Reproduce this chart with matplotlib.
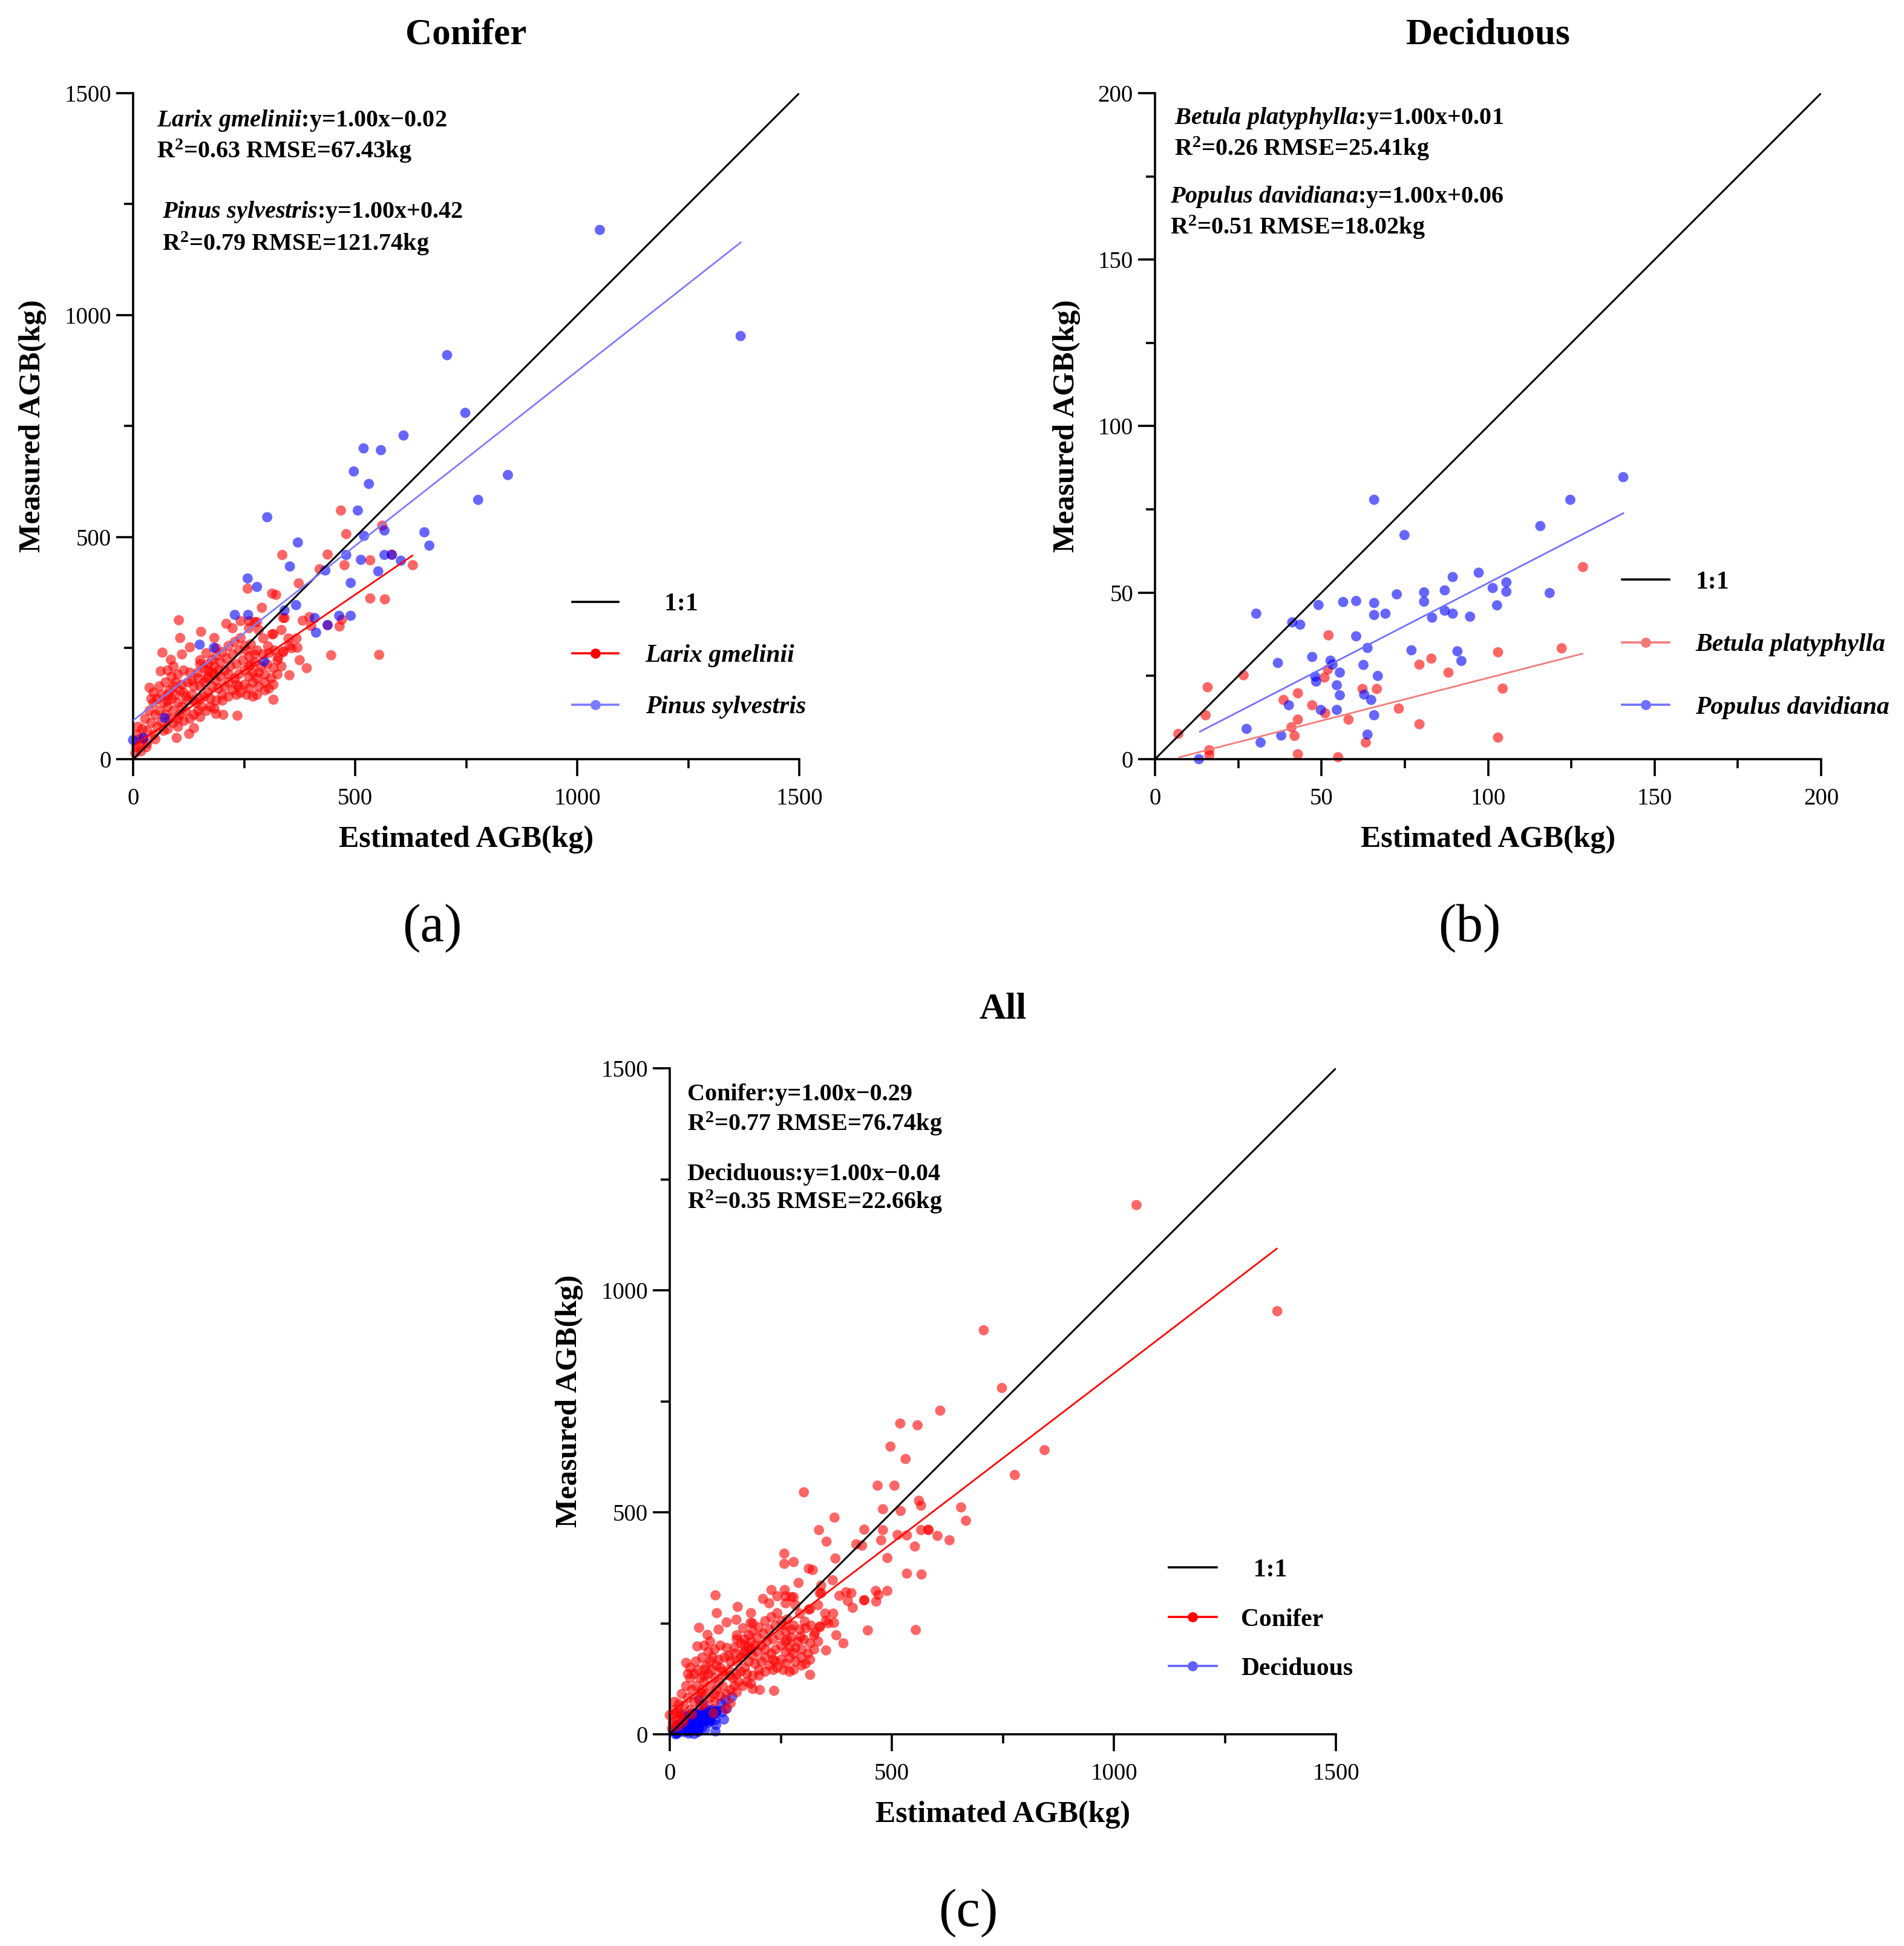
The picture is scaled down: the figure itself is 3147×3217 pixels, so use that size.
import numpy as np
import matplotlib.pyplot as plt
from matplotlib.lines import Line2D

# === fonts ===
plt.rcParams['font.family'] = ['Liberation Serif', 'DejaVu Serif']
plt.rcParams['mathtext.fontset'] = 'custom'
plt.rcParams['mathtext.rm'] = 'Liberation Serif:bold'
plt.rcParams['mathtext.bf'] = 'Liberation Serif:bold'
plt.rcParams['mathtext.it'] = 'Liberation Serif:italic:bold'

# === data: (estimated, measured) in kg ===
larix = np.array([
    (103, 313), (153, 287), (106, 273), (210, 305), (242, 311), (290, 341), (183, 273), (128, 252),
    (66, 240), (110, 236), (85, 224), (62, 198), (37, 161), (46, 150), (352, 189), (316, 134),
    (316, 168), (279, 145), (235, 98), (187, 102), (203, 100), (137, 70), (126, 57), (98, 48),
    (78, 68), (325, 223), (338, 241), (357, 250), (306, 239), (316, 282), (338, 318), (279, 309),
    (261, 311), (224, 295), (151, 223), (165, 239), (187, 250),
    (9, 55), (14, 32), (23, 45), (7, 27), (32, 64), (41, 82), (27, 91), (50, 100), (37, 109),
    (55, 73), (64, 84), (46, 55), (21, 68), (14, 45), (30, 27), (5, 14), (18, 18), (11, 73),
    (69, 127), (78, 118), (87, 136), (96, 145), (82, 155), (101, 127), (110, 118), (91, 109),
    (105, 100), (119, 109), (123, 132), (114, 150), (133, 145), (142, 127), (146, 109), (155, 118),
    (160, 141), (169, 150), (151, 164), (137, 164), (123, 173), (110, 168), (96, 173), (87, 186),
    (101, 191), (114, 200), (128, 195), (91, 209), (78, 200),
    (160, 173), (169, 186), (178, 195), (187, 177), (197, 186), (178, 164), (192, 159), (206, 164),
    (215, 173), (224, 155), (238, 164), (251, 168), (261, 159), (270, 173), (283, 164), (297, 173),
    (306, 159), (201, 145), (215, 141), (233, 145), (242, 150), (174, 136), (187, 132), (201, 132),
    (169, 214), (183, 209), (197, 218), (210, 227), (224, 236), (238, 245), (251, 255), (265, 259),
    (279, 245), (293, 236), (261, 232), (247, 223), (233, 214), (219, 209), (206, 200), (192, 200),
    (215, 255), (229, 264), (242, 273), (201, 241), (187, 232), (178, 223), (160, 205), (146, 195),
    (151, 214), (261, 209), (274, 218), (288, 209), (302, 214), (316, 205), (283, 195), (270, 195),
    (251, 200), (238, 191), (229, 182), (215, 191),
    (55, 136), (59, 164), (46, 127), (73, 173), (78, 145), (64, 145), (41, 136),
    (169, 200), (165, 182), (183, 191), (146, 182), (133, 177), (105, 155), (91, 164), (78, 132),
    (59, 109), (73, 100), (82, 91), (91, 82), (101, 73), (69, 64), (50, 45), (32, 36), (101, 91),
    (114, 86), (128, 91), (137, 100), (151, 95), (165, 109), (174, 118), (183, 114), (151, 136),
    (137, 132), (119, 141),
    (261, 186), (279, 182), (297, 191), (311, 182), (325, 191), (334, 209), (256, 145), (270, 141),
    (297, 155), (233, 168),
    (468, 560), (480, 507), (561, 526), (336, 460), (438, 461), (476, 437), (534, 448), (582, 461),
    (630, 437), (420, 428), (373, 396), (258, 384), (313, 373), (322, 370), (534, 362), (567, 360),
    (341, 318), (382, 312), (397, 320), (401, 300), (438, 302), (470, 314), (465, 299), (368, 272),
    (370, 251), (338, 243), (352, 256), (327, 229), (446, 234), (554, 235), (375, 223), (391, 205),
    (318, 245), (304, 254), (313, 281), (293, 272), (274, 309), (261, 295), (283, 291), (256, 245),
    (274, 236), (265, 213), (334, 291), (350, 272),
])

pinus = np.array([
    (1051, 1192), (1368, 953), (707, 910), (748, 780), (609, 729), (844, 640), (777, 584),
    (519, 700), (558, 696), (497, 648), (531, 620), (506, 560), (302, 545), (371, 488), (566, 515),
    (520, 503), (656, 511), (667, 481), (480, 460), (513, 449), (552, 423), (566, 460), (583, 460),
    (603, 447), (353, 434), (433, 425), (490, 397), (258, 407), (279, 388), (367, 347), (341, 335),
    (409, 318), (412, 285), (438, 302), (464, 323), (490, 323), (229, 325), (259, 325), (295, 220),
    (150, 258), (182, 251), (71, 93), (0, 43), (23, 48),
])

betula = np.array([
    (128.5, 57.7), (122.1, 33.3), (103.0, 32.1), (83.0, 30.2), (79.4, 28.4), (88.1, 26.0),
    (52.1, 37.2), (51.9, 26.9), (50.9, 24.5), (26.6, 25.2), (15.8, 21.6), (42.9, 19.8),
    (38.6, 17.8), (62.3, 21.1), (66.6, 21.1), (104.4, 21.2), (47.2, 16.2), (51.1, 13.8),
    (15.2, 13.2), (73.2, 15.2), (58.1, 11.9), (42.9, 11.9), (41.0, 9.6), (41.9, 7.0),
    (79.4, 10.5), (7.0, 7.6), (63.3, 5.0), (103.0, 6.5), (16.3, 2.7), (16.3, 1.2),
    (42.9, 1.5), (55.0, 0.6),
])

populus = np.array([
    (140.6, 84.7), (65.8, 77.9), (124.7, 77.9), (74.9, 67.3), (115.7, 70.0), (89.4, 54.7),
    (97.2, 56.0), (105.5, 53.1), (101.4, 51.4), (105.5, 50.3), (118.5, 49.9), (87.0, 50.7),
    (80.8, 50.1), (80.8, 47.3), (72.6, 49.5), (60.4, 47.5), (56.5, 47.2), (65.8, 46.9),
    (49.1, 46.3), (102.7, 46.2), (65.8, 43.3), (69.2, 43.7), (83.2, 42.5), (87.0, 44.6),
    (89.4, 43.7), (94.6, 42.8), (30.4, 43.7), (41.2, 41.1), (43.6, 40.4), (60.4, 36.9),
    (63.8, 33.4), (77.0, 32.7), (90.8, 32.4), (92.0, 29.5), (47.2, 30.7), (36.9, 28.9),
    (52.7, 29.6), (53.3, 28.4), (62.6, 28.3), (55.5, 26.0), (66.9, 25.0), (48.1, 24.8),
    (48.4, 23.3), (54.6, 22.2), (55.5, 19.2), (62.8, 19.4), (64.9, 17.8), (40.2, 16.2),
    (49.8, 14.8), (54.6, 14.8), (65.8, 13.2), (27.5, 9.1), (37.9, 7.1), (31.7, 5.0),
    (63.8, 7.4), (13.2, 0.0),
])

conifer = np.vstack([larix, pinus])
deciduous = np.vstack([betula, populus])

# fitted lines as drawn: (slope, intercept, x start, x end)
larix_fit = (0.683, 29, 5, 629)
pinus_fit = (0.787, 87, 0, 1368)
betula_fit = (0.257, -1.3, 7.3, 128.3)
populus_fit = (0.516, 1.3, 13.5, 140.6)
conifer_fit = (0.765, 48, 0, 1367)
deciduous_fit = (0.42, 14, 7, 140)

# annotation texts
notes_a = [r"$\mathit{Larix\ gmelinii}$:y=1.00x−0.02", r"R$^{2}$=0.63 RMSE=67.43kg",
           r"$\mathit{Pinus\ sylvestris}$:y=1.00x+0.42", r"R$^{2}$=0.79 RMSE=121.74kg"]
notes_b = [r"$\mathit{Betula\ platyphylla}$:y=1.00x+0.01", r"R$^{2}$=0.26 RMSE=25.41kg",
           r"$\mathit{Populus\ davidiana}$:y=1.00x+0.06", r"R$^{2}$=0.51 RMSE=18.02kg"]
notes_c = ["Conifer:y=1.00x−0.29", r"R$^{2}$=0.77 RMSE=76.74kg",
           "Deciduous:y=1.00x−0.04", r"R$^{2}$=0.35 RMSE=22.66kg"]

RED = (1, 0, 0, 0.6)
BLUE = (0, 0, 1, 0.6)
DOT = 37

fig = plt.figure(figsize=(3147 / 200, 3217 / 200), dpi=200)
W, H = 3147, 3217
ax_a = fig.add_axes([220 / W, 1 - 1255 / H, 1101 / W, 1101 / H])
ax_b = fig.add_axes([1909 / W, 1 - 1255 / H, 1101 / W, 1101 / H])
ax_c = fig.add_axes([1107 / W, 1 - 2867 / H, 1101 / W, 1101 / H])


def style(ax, lim, major, title, ylab_x):
    ax.set_xlim(0, lim)
    ax.set_ylim(0, lim)
    for s in ['top', 'right']:
        ax.spines[s].set_visible(False)
    for s in ['left', 'bottom']:
        ax.spines[s].set_linewidth(1.3)
    ax.set_xticks(np.arange(0, lim + 1, major))
    ax.set_yticks(np.arange(0, lim + 1, major))
    ax.set_xticks(np.arange(0, lim + 1, major / 2), minor=True)
    ax.set_yticks(np.arange(0, lim + 1, major / 2), minor=True)
    ax.tick_params(which='major', length=10, width=1.3, labelsize=14)
    ax.tick_params(which='minor', length=5.5, width=1.3)
    ax.tick_params(axis='x', which='major', pad=7)
    ax.tick_params(axis='y', which='major', pad=3)
    ax.text(0.5, 1.088, title, transform=ax.transAxes, ha='center', va='center',
            fontsize=22, fontweight='bold')
    ax.text(0.5, -0.121, "Estimated AGB(kg)", transform=ax.transAxes, ha='center',
            va='center', fontsize=18, fontweight='bold')
    ax.text(ylab_x, 0.5, "Measured AGB(kg)", transform=ax.transAxes, ha='center',
            va='center', rotation=90, fontsize=18, fontweight='bold')
    ax.plot([0, lim], [0, lim], color='black', lw=1.1, zorder=4)


def fit_line(ax, fit, color, z=4):
    k, b, x0, x1 = fit
    xs = np.array([x0, x1])
    ax.plot(xs, k * xs + b, color=color, lw=1.0, zorder=z)


def notes(ax, texts, xs, ys):
    for t, x, y in zip(texts, xs, ys):
        ax.text(x, y - 0.012, t, transform=ax.transAxes, ha='left', va='baseline',
                fontsize=14.5, fontweight='bold')


def legend(ax, labels, colors, anchor, hl, htp, ls, italic_labels):
    hs = [Line2D([], [], color='black', lw=1.3)]
    for c in colors:
        hs.append(Line2D([], [], color=c, lw=1.3, marker='o', ms=6,
                         markerfacecolor=c, markeredgecolor='none'))
    leg = ax.legend(hs, labels, loc='upper left', bbox_to_anchor=anchor, frameon=False,
                    fontsize=15, handlelength=hl, handletextpad=htp, labelspacing=ls,
                    borderpad=0, borderaxespad=0, numpoints=1)
    for t in leg.get_texts():
        t.set_fontweight('bold')
    if italic_labels:
        for t in leg.get_texts()[1:]:
            t.set_fontstyle('italic')


# === (a) Conifer ===
style(ax_a, 1500, 500, "Conifer", -0.151)
ax_a.scatter(larix[:, 0], larix[:, 1], s=DOT, color=RED, edgecolors='none', zorder=2, clip_on=False)
ax_a.scatter(pinus[:, 0], pinus[:, 1], s=DOT, color=BLUE, edgecolors='none', zorder=2, clip_on=False)
fit_line(ax_a, larix_fit, 'red')
fit_line(ax_a, pinus_fit, '#7b7bff')
notes(ax_a, notes_a, [0.035, 0.035, 0.044, 0.044], [0.962, 0.915, 0.825, 0.776])
legend(ax_a, ['   1:1', 'Larix gmelinii', 'Pinus sylvestris'], ['red', '#7b7bff'],
       (0.659, 0.2495), 1.83, 1.08, 1.12, True)

# === (b) Deciduous ===
style(ax_b, 200, 50, "Deciduous", -0.133)
ax_b.scatter(betula[:, 0], betula[:, 1], s=DOT, color=RED, edgecolors='none', zorder=2, clip_on=False)
ax_b.scatter(populus[:, 0], populus[:, 1], s=DOT, color=BLUE, edgecolors='none', zorder=2, clip_on=False)
fit_line(ax_b, betula_fit, '#f47a7a')
fit_line(ax_b, populus_fit, '#7070ff')
notes(ax_b, notes_b, [0.029, 0.029, 0.023, 0.023], [0.966, 0.918, 0.848, 0.800])
legend(ax_b, ['1:1', 'Betula platyphylla', 'Populus davidiana'], ['#f47a7a', '#7070ff'],
       (0.701, 0.283), 1.87, 1.05, 1.57, True)

# === (c) All ===
style(ax_c, 1500, 500, "All", -0.151)
fit_line(ax_c, deciduous_fit, '#5f5fff', z=1)
ax_c.scatter(deciduous[:, 0], deciduous[:, 1], s=DOT, color=BLUE, edgecolors='none', zorder=2, clip_on=False)
ax_c.scatter(conifer[:, 0], conifer[:, 1], s=DOT, color=RED, edgecolors='none', zorder=2, clip_on=False)
fit_line(ax_c, conifer_fit, 'red')
notes(ax_c, notes_c, [0.026, 0.026, 0.026, 0.026], [0.964, 0.918, 0.844, 0.801])
legend(ax_c, ['  1:1', 'Conifer', 'Deciduous'], ['red', '#5f5fff'],
       (0.749, 0.2635), 1.9, 0.96, 1.04, False)

# panel letters
fig.text(714 / W, 1 - 1535 / H, "(a)", fontsize=32, ha='center', va='center')
fig.text(2429 / W, 1 - 1535 / H, "(b)", fontsize=32, ha='center', va='center')
fig.text(1600 / W, 1 - 3163 / H, "(c)", fontsize=32, ha='center', va='center')

fig.savefig("out.png", dpi=200)
